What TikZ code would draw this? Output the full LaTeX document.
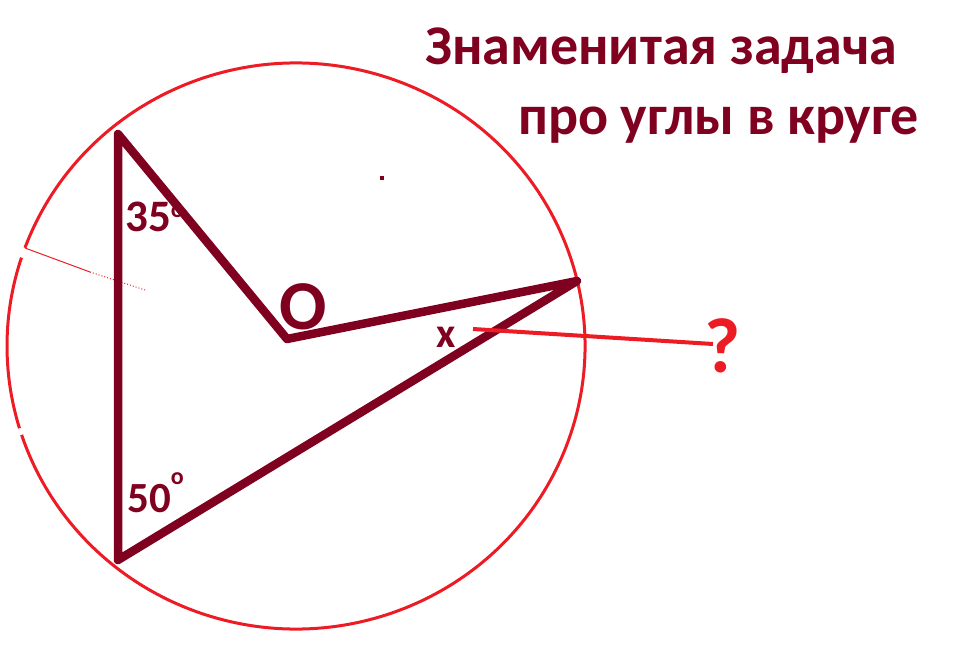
\documentclass[tikz,border=0pt]{standalone}
\usepackage{fontspec}
\setmainfont{Carlito}
\definecolor{dred}{HTML}{800020}
\definecolor{pred}{HTML}{ED1C24}
\tikzset{
  circ/.style={pred, line width=3pt},
  tri/.style={dred, line width=8.5pt, line join=round, line cap=round},
  lbl/.style={dred, inner sep=0pt, anchor=base west, font=\bfseries},
  pointer/.style={pred, line width=4pt},
}
\begin{document}
\begin{tikzpicture}[x=1pt,y=-1pt]
\useasboundingbox (0,0) rectangle (977,660);
% circle (hand drawn, two small gaps)
\draw[circ] (296,346) ++(163.1:289 and 283) arc[start angle=163.1, end angle=198.2, x radius=289, y radius=283];
\draw[circ] (296,346) ++(200.3:289 and 283) arc[start angle=200.3, end angle=521.7, x radius=289, y radius=283];
% thin diameter-like mark
\coordinate (m1) at (25,248);
\coordinate (m2) at (90,272);
\coordinate (m3) at (145,290);
\draw[pred, line width=1pt] (m1) -- (m2);
\draw[pred, line width=1pt, dotted] (m2) -- (m3);
% triangle and radius
\coordinate (A) at (118,134);
\coordinate (B) at (118,560);
\coordinate (C) at (577,281);
\coordinate (O) at (287,339);
\draw[tri] (A) -- (O) -- (C) -- (B) -- cycle;
% small dot
\fill[dred] (380,176) rectangle (384,180);
% labels
\node[lbl, font=\bfseries\fontsize{45}{45}\selectfont] (a35) at (125,232) {35\raisebox{14pt}{\fontsize{24}{24}\selectfont o}};
\node[lbl, font=\bfseries\fontsize{43}{43}\selectfont] (a50) at (127,512) {50\raisebox{28pt}{\fontsize{24}{24}\selectfont o}};
\node[lbl, font=\bfseries\fontsize{70}{70}\selectfont] (oo) at (279,330) {O};
\node[lbl, font=\bfseries\fontsize{42}{42}\selectfont] (xx) at (436,347) {x};
\node[lbl, pred, font=\bfseries\fontsize{78}{78}\selectfont] (q) at (704,372) {?};
% pointer from x to ?
\coordinate (p1) at (473,329);
\coordinate (p2) at (713,344);
\draw[pointer] (p1) -- (p2);
% title
\node[lbl, font=\bfseries\fontsize{56}{56}\selectfont] (t1) at (425,65) {Знаменитая задача};
\node[lbl, font=\bfseries\fontsize{56}{56}\selectfont] (t2) at (518,135) {про углы в круге};
\end{tikzpicture}
\end{document}
